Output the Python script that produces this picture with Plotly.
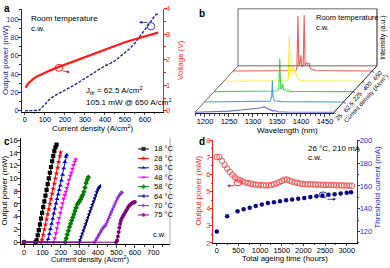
import plotly.graph_objects as go

W, H = 390, 268
FONT = "Liberation Sans, Arial, sans-serif"

# ================= DATA =================
# ---- panel a : L-I-V ----
a_current = [0, 30, 60, 70, 80, 90, 100, 115, 130, 150, 175, 200, 225, 250, 275, 300, 325, 350, 375, 400,
             425, 450, 475, 500, 525, 550, 575, 600, 625, 650, 665]
a_power = [0, 0, 0, 0.5, 2.5, 5, 7.5, 11, 14, 16.5, 19.5, 22, 25.5, 28.5, 32, 35.5, 39, 42.5, 46, 49,
           51.5, 54.5, 59, 63.5, 68, 74, 81, 88, 96, 104, 106.3]
a_v_current = [5, 10, 20, 30, 45, 60, 80, 100, 150, 200, 250, 300, 350, 400, 450, 500, 550, 600, 650, 665]
a_voltage = [0.9, 1.0, 1.1, 1.18, 1.27, 1.34, 1.42, 1.49, 1.66, 1.81, 1.96, 2.11, 2.26, 2.41, 2.55, 2.68,
             2.8, 2.91, 3.02, 3.06]

# ---- panel b : spectra at different current densities ----
b_current_labels = ["25", "62.5", "225", "400", "650"]
b_wl_25 = [1179, 1200, 1230, 1250, 1270, 1290, 1300, 1310, 1318, 1322, 1326, 1332, 1338, 1342, 1346, 1352, 1370, 1400, 1469]
b_in_25 = [0, 0.005, 0.012, 0.02, 0.035, 0.05, 0.06, 0.07, 0.085, 0.095, 0.085, 0.06, 0.04, 0.02, 0.03, 0.01, 0.005, 0.003, 0]
b_wl_62 = [1179, 1250, 1300, 1316, 1319, 1320.5, 1322, 1325, 1340, 1469]
b_in_62 = [0, 0.005, 0.01, 0.015, 0.1, 0.38, 0.08, 0.02, 0.005, 0]
b_wl_225 = [1179, 1290, 1310, 1314, 1316, 1318, 1320, 1322, 1324, 1328, 1340, 1469]
b_in_225 = [0, 0.005, 0.01, 0.05, 0.59, 0.06, 0.05, 0.14, 0.04, 0.02, 0.005, 0]
b_wl_400 = [1179, 1300, 1312, 1314, 1316, 1318, 1320, 1322, 1324, 1326, 1328, 1331, 1335, 1345, 1469]
b_in_400 = [0, 0.005, 0.01, 0.05, 0.81, 0.1, 0.25, 0.18, 0.28, 0.15, 0.2, 0.08, 0.03, 0.01, 0]
b_wl_650 = [1179, 1300, 1310, 1312, 1314, 1316, 1318, 1320, 1322, 1325, 1327, 1329, 1331, 1334, 1337, 1340, 1350, 1469]
b_in_650 = [0, 0.005, 0.01, 0.05, 0.98, 0.1, 0.12, 0.28, 0.08, 0.1, 1.0, 0.1, 0.15, 0.12, 0.14, 0.04, 0.01, 0]
b_colors = ["#6b6bd6", "#4f9fe0", "#3fdc3f", "#f2f23a", "#f05a5a"]

# ---- panel c : temperature dependent L-I ----
c_labels = ["18 °C", "28 °C", "38 °C", "48 °C", "58 °C", "64 °C", "70 °C", "75 °C"]
c_j_18 = [0, 62, 68, 74, 80, 86, 92, 98, 104, 110, 116, 122, 128, 134, 140, 146, 152, 158, 164, 170, 176]
c_p_18 = [0, 0, 0.3, 1.1, 1.9, 2.8, 3.7, 4.6, 5.5, 6.4, 7.3, 8.2, 9.1, 10, 10.9, 11.8, 12.7, 13.5, 14.3, 14.9, 15.3]
c_j_28 = [0, 92, 98, 104, 110, 116, 122, 128, 134, 140, 146, 152, 158, 164, 170, 176, 182, 188, 194, 198]
c_p_28 = [0, 0, 0.4, 1.2, 2, 2.8, 3.6, 4.4, 5.2, 6, 6.8, 7.6, 8.4, 9.2, 10, 10.8, 11.7, 12.6, 13.5, 14.1]
c_j_38 = [0, 125, 131, 137, 143, 149, 155, 161, 167, 173, 179, 185, 191, 197, 203, 209, 215, 221, 227, 231]
c_p_38 = [0, 0, 0.5, 1.3, 2.1, 2.9, 3.7, 4.5, 5.3, 6.1, 6.8, 7.5, 8.2, 8.9, 9.7, 10.6, 11.6, 12.6, 13.4, 13.7]
c_j_48 = [0, 160, 166, 172, 178, 184, 190, 196, 202, 208, 214, 220, 226, 232, 238, 244, 250, 256, 262, 268, 274, 280]
c_p_48 = [0, 0, 0.6, 1.4, 2.2, 3, 3.8, 4.6, 5.4, 6.1, 6.8, 7.4, 7.9, 8.5, 9.1, 9.8, 10.4, 10.9, 11.5, 12.1, 12.6, 13.0]
c_j_58 = [0, 222, 228, 234, 240, 246, 252, 258, 264, 270, 276, 282, 288, 294, 300, 306, 312, 318, 324, 330, 336, 342, 348]
c_p_58 = [0, 0, 0.6, 1.2, 1.8, 2.4, 2.9, 3.4, 3.9, 4.4, 4.9, 5.4, 5.9, 6.2, 6.4, 6.7, 7.1, 7.4, 7.9, 8.6, 9.3, 9.8, 10.2]
c_j_64 = [0, 298, 304, 310, 316, 322, 328, 334, 340, 346, 352, 358, 364, 370, 376, 382, 388, 394, 400, 406, 412]
c_p_64 = [0, 0, 0.4, 0.9, 1.4, 1.9, 2.4, 2.9, 3.4, 3.9, 4.4, 4.9, 5.4, 5.9, 6.4, 6.9, 7.4, 7.9, 8.3, 8.6, 8.8]
c_j_70 = [0, 382, 388, 394, 400, 406, 412, 418, 424, 430, 436, 442, 448, 454, 460, 466, 472, 478, 484, 490,
          496, 502, 508, 514, 520, 526, 530]
c_p_70 = [0, 0, 0.3, 0.6, 0.9, 1.2, 1.5, 1.8, 2.1, 2.3, 2.5, 2.7, 3.1, 3.5, 3.9, 4.3, 4.7, 5.1, 5.5, 5.9,
          6.3, 6.7, 7.0, 7.3, 7.5, 7.7, 7.8]
c_j_75 = [0, 498, 504, 508, 512, 516, 520, 524, 530, 536, 542, 548, 554, 560, 566, 572, 578, 584, 590, 596, 600]
c_p_75 = [0, 0, 0.3, 0.9, 1.6, 2.3, 2.9, 3.4, 3.8, 4.1, 4.4, 4.7, 5.0, 5.3, 5.6, 5.8, 6.0, 6.1, 6.2, 6.3, 6.3]
c_colors = ["#000000", "#ff0000", "#0000ff", "#ff00ff", "#008000", "#000080", "#8a2be2", "#800080"]
c_symbols = ["square", "star", "triangle-up", "triangle-down", "diamond", "triangle-left", "triangle-right", "hexagon"]

# ---- panel d : ageing ----
d_time = [0, 60, 120, 180, 240, 300, 360, 420, 480, 540,
          600, 660, 720, 780, 840, 900, 960, 1020, 1080, 1140,
          1200, 1260, 1320, 1380, 1440, 1500, 1560, 1620, 1680, 1740,
          1800, 1860, 1920, 1980, 2040, 2100, 2160, 2220, 2280, 2340,
          2400, 2460, 2520, 2580, 2640, 2700, 2760, 2820, 2880, 2940,
          3000, 3060, 3120]
d_power = [7.02, 7.02, 6.80, 6.55, 6.35, 6.16, 5.98, 5.84, 5.72, 5.67,
           5.60, 5.53, 5.50, 5.46, 5.43, 5.41, 5.40, 5.38, 5.37, 5.36,
           5.36, 5.39, 5.43, 5.48, 5.55, 5.62, 5.70, 5.71, 5.65, 5.59,
           5.54, 5.51, 5.47, 5.45, 5.43, 5.43, 5.42, 5.42, 5.41, 5.41,
           5.40, 5.40, 5.39, 5.40, 5.38, 5.38, 5.37, 5.37, 5.36, 5.36,
           5.35, 5.35, 5.34]
d_ith_time = [0, 240, 480, 620, 760, 900, 1040, 1180, 1320, 1460, 1600, 1740, 1880, 2020, 2160, 2300,
              2440, 2580, 2720, 2860, 3000, 3100]
d_ith = [120, 133.5, 137.8, 139.6, 140.8, 142.5, 143.7, 145, 145.8, 146.6, 147.4, 148.1, 148.8, 149.5,
         150.2, 150.9, 151.6, 152.2, 152.8, 153.4, 154, 154.5]

# ================= LAYOUT HELPERS =================
def xd(x0, x1):
    return [x0 / W, x1 / W]

def yd(top, bottom):
    return [1 - bottom / H, 1 - top / H]

def PX(px):
    return px / W

def PY(py):
    return 1 - py / H

NAVY = "#23239a"
RED = "#ff1a1a"
DBLUE = "#2b2bc8"
TF = 7.5  # tick font size

fig = go.Figure()
annotations = []
shapes = []

def text(t, px, py, size=8, color="black", xanchor="left", angle=0, bold=False):
    annotations.append(dict(text=("<b>%s</b>" % t) if bold else t, x=PX(px), y=PY(py), xref="paper", yref="paper",
                            showarrow=False, xanchor=xanchor, yanchor="middle", textangle=angle,
                            font=dict(size=size, color=color, family=FONT)))

def ellipse(cx, cy, rx, ry, color):
    shapes.append(dict(type="circle", xref="paper", yref="paper", x0=PX(cx - rx), x1=PX(cx + rx),
                       y0=PY(cy + ry), y1=PY(cy - ry), line=dict(color=color, width=0.9)))

def arrow(tx, ty, hx, hy, color):
    annotations.append(dict(text="", x=PX(hx), y=PY(hy), xref="paper", yref="paper", showarrow=True,
                            ax=tx - hx, ay=ty - hy, axref="pixel", ayref="pixel", arrowhead=2,
                            arrowsize=0.7, arrowwidth=0.9, arrowcolor=color))

def paper_line(x0, y0, x1, y1, color, width=1):
    shapes.append(dict(type="line", xref="paper", yref="paper", x0=PX(x0), y0=PY(y0), x1=PX(x1), y1=PY(y1),
                       line=dict(color=color, width=width)))

def axis_common(**kw):
    d = dict(showgrid=False, zeroline=False, showline=True, linewidth=1, ticks="outside", ticklen=2.5,
             tickwidth=1, tickfont=dict(size=TF, family=FONT), ticklabelstandoff=-2)
    d.update(kw)
    return d

# ================= PANEL A =================
fig.add_trace(go.Scatter(x=a_current, y=a_power, mode="lines", xaxis="x", yaxis="y",
                         line=dict(color=NAVY, width=1.4, dash="3px,1.5px")))
fig.add_trace(go.Scatter(x=a_v_current, y=a_voltage, mode="lines", xaxis="x", yaxis="y2",
                         line=dict(color=RED, width=2.2)))

# ================= PANEL B =================
B_PXNM = 0.48
B_WL0, B_WL1 = 1179.2, 1468.8
B_DX, B_DY = 43 / B_PXNM, 48.0   # depth vector (nm, px)
B_S = 58.0                       # px per a.u.
B_STEP = 0.2222
B_BACK_TOP = 59.0 / B_S

def proj(wl, d, inten):
    return wl + d * B_DX, d * B_DY + inten * B_S

b_specs = [(b_wl_25, b_in_25), (b_wl_62, b_in_62), (b_wl_225, b_in_225), (b_wl_400, b_in_400), (b_wl_650, b_in_650)]
fig.add_trace(go.Scatter(x=[None], y=[None], xaxis="x3", yaxis="y3", showlegend=False))
for k in range(4, -1, -1):
    wl, it = b_specs[k]
    xs, ys = [], []
    for w, i in zip(wl, it):
        px_, py_ = proj(w, k * B_STEP, i)
        xs.append(px_)
        ys.append(py_)
    fig.add_trace(go.Scatter(x=xs, y=ys, mode="lines", xaxis="x4", yaxis="y4",
                             line=dict(color=b_colors[k], width=1.1)))

def bline(p0, p1, color="#444444", width=0.8):
    shapes.append(dict(type="line", xref="x4", yref="y4", x0=p0[0], y0=p0[1], x1=p1[0], y1=p1[1],
                       line=dict(color=color, width=width)))

c00 = proj(B_WL0, 0, 0); c10 = proj(B_WL1, 0, 0)
c01 = proj(B_WL0, 1, 0); c11 = proj(B_WL1, 1, 0)
t01 = proj(B_WL0, 1, B_BACK_TOP); t11 = proj(B_WL1, 1, B_BACK_TOP)
bline(c00, c01)
bline(c10, c11, "#222222", 1)
bline(c01, c11)
bline(c01, t01)
bline(t01, t11)
bline(c11, t11, "#222222", 1)
nx, ny = 0.745, 0.667
for k, lab in enumerate(b_current_labels):
    p = proj(B_WL1, k * B_STEP, 0)
    q = (p[0] + nx * 2.5 / B_PXNM, p[1] - ny * 2.5)
    bline(p, q, "#222222", 0.8)
    annotations.append(dict(text=lab, x=p[0], y=p[1], xref="x4", yref="y4", showarrow=False,
                            xshift=nx * 6.5, yshift=-ny * 6.5, textangle=-48, xanchor="center", yanchor="middle",
                            font=dict(size=6.2, family=FONT)))
pm = proj(B_WL1, 0.5, 0)
annotations.append(dict(text="Current density (A/cm<sup>2</sup>)", x=pm[0], y=pm[1], xref="x4", yref="y4",
                        showarrow=False, xshift=nx * 14, yshift=-ny * 14, textangle=-48,
                        xanchor="center", yanchor="middle", font=dict(size=6, family=FONT)))

# ================= PANEL C =================
c_js = [c_j_18, c_j_28, c_j_38, c_j_48, c_j_58, c_j_64, c_j_70, c_j_75]
c_ps = [c_p_18, c_p_28, c_p_38, c_p_48, c_p_58, c_p_64, c_p_70, c_p_75]
C_XR = [-18, 790]
C_YR = [-0.3, 16.4]
C_DX = (20.7, 170)
C_DY = (138.3, 248.5)

def c_px_to_data(px, py):
    x = C_XR[0] + (px - C_DX[0]) / (C_DX[1] - C_DX[0]) * (C_XR[1] - C_XR[0])
    y = C_YR[0] + (C_DY[1] - py) / (C_DY[1] - C_DY[0]) * (C_YR[1] - C_YR[0])
    return x, y

for k in range(8):
    fig.add_trace(go.Scatter(x=c_js[k], y=c_ps[k], mode="lines+markers", xaxis="x5", yaxis="y5",
                             line=dict(color=c_colors[k], width=1),
                             marker=dict(symbol=c_symbols[k], size=4.2, color=c_colors[k], line=dict(width=0))))
for k in range(8):
    ry = 150 + k * 9.75
    xa, ya = c_px_to_data(138, ry)
    xm, _ = c_px_to_data(143.5, ry)
    xb, _ = c_px_to_data(149, ry)
    fig.add_trace(go.Scatter(x=[xa, xm, xb], y=[ya, ya, ya], mode="lines+markers", xaxis="x5", yaxis="y5",
                             line=dict(color=c_colors[k], width=1),
                             marker=dict(symbol=c_symbols[k], size=[0, 4.2, 0], color=c_colors[k], line=dict(width=0))))
    text(c_labels[k], 152, ry, size=7.5)
paper_line(C_DX[1], C_DY[0], C_DX[1], C_DY[1], "#9a9a9a", 0.8)

# ================= PANEL D =================
fig.add_trace(go.Scatter(x=d_time, y=d_power, mode="markers", xaxis="x6", yaxis="y6",
                         marker=dict(symbol="circle-open", size=5.5, color="#f05555", line=dict(width=1))))
fig.add_trace(go.Scatter(x=d_ith_time, y=d_ith, mode="markers", xaxis="x6", yaxis="y7",
                         marker=dict(symbol="circle", size=4.5, color="#0b0b8a")))

# ================= TEXTS =================
text("a", 2, 5, size=10, bold=True)
text("b", 197, 10, size=10, bold=True)
text("c", 2, 142, size=10, bold=True)
text("d", 197, 142, size=10, bold=True)

# panel a
text("Room temperature", 29, 15, size=8)
text("c.w.", 29, 25, size=8)
text("J<sub>th</sub> = 62.5 A/cm<sup>2</sup>", 84, 89, size=8)
text("105.1 mW @ 650 A/cm<sup>2</sup>", 84, 101, size=8)
text("Current density (A/cm<sup>2</sup>)", 92, 128.5, size=7.8, xanchor="center")
text("Output power (mW)", 5, 58, size=8, color=NAVY, xanchor="center", angle=-90)
text("Voltage (V)", 180, 58, size=8, color=RED, xanchor="center", angle=-90)
ellipse(59, 66, 4, 3.5, RED)
arrow(61, 69, 70, 70.5, RED)
ellipse(151, 23, 3.8, 3.8, NAVY)
arrow(149, 19, 139, 19, NAVY)

# panel b
text("Room temperature", 314, 14, size=7.5)
text("c.w.", 314, 24, size=7.5)
text("Wavelength (nm)", 287, 131, size=8, xanchor="center")
text("Intensity (a.u.)", 383, 35, size=7, xanchor="center", angle=-90)

# panel c
text("c.w.", 168, 238, size=7.5, xanchor="right")
text("Current density (A/cm<sup>2</sup>)", 90, 263.5, size=7.5, xanchor="center")
text("Output power (mW)", 5, 193, size=8, xanchor="center", angle=-90)

# panel d
text("26 °C, 210 mA", 306, 150, size=8)
text("c.w.", 306, 159, size=8)
text("Total ageing time (hours)", 285, 263.5, size=7.8, xanchor="center")
text("Output power (mW)", 199, 193, size=8, color=RED, xanchor="center", angle=-90)
text("Threshold current (mA)", 378, 190, size=8, color=DBLUE, xanchor="center", angle=-90)
ellipse(238, 185, 4, 3, RED)
arrow(236, 188, 227, 188, RED)
ellipse(323, 197.5, 4, 3, NAVY)
arrow(326, 202, 336, 202, NAVY)

# ================= AXES =================
fig.update_layout(
    width=W, height=H, margin=dict(l=0, r=0, t=0, b=0),
    paper_bgcolor="white", plot_bgcolor="rgba(0,0,0,0)", showlegend=False,
    font=dict(family=FONT, size=8, color="black"),
    xaxis=axis_common(domain=xd(21.7, 163), range=[-16, 690], anchor="y", tickvals=[0, 100, 200, 300, 400, 500, 600],
                      linecolor="black", minor=dict(ticks="outside", ticklen=1.5, dtick=50, tick0=0)),
    yaxis=axis_common(domain=yd(4.7, 111.5), range=[-1, 111.5], anchor="x", tickvals=[0, 20, 40, 60, 80, 100],
                      linecolor=NAVY, tickcolor=NAVY, tickfont=dict(size=TF, color=NAVY, family=FONT),
                      minor=dict(ticks="outside", ticklen=1.5, dtick=10, tick0=0, tickcolor=NAVY)),
    yaxis2=axis_common(overlaying="y", side="right", anchor="x", range=[-0.036, 4], tickvals=[0, 1, 2, 3, 4],
                       linecolor=RED, tickcolor=RED, tickfont=dict(size=TF, color=RED, family=FONT),
                       minor=dict(ticks="outside", ticklen=1.5, dtick=0.5, tick0=0, tickcolor=RED)),
    xaxis3=axis_common(domain=xd(195, 334), range=[B_WL0, B_WL1], anchor="y3",
                       tickvals=[1200, 1250, 1300, 1350, 1400, 1450], linecolor="#222222", ticklen=2.5,
                       tickfont=dict(size=7.5, family=FONT),
                       minor=dict(ticks="outside", ticklen=1.5, dtick=10, tick0=1200)),
    yaxis3=dict(domain=yd(112, 113), range=[0, 1], anchor="x3", visible=False),
    xaxis4=dict(domain=xd(190, 390), range=[B_WL0 + (190 - 195) / B_PXNM, B_WL0 + (390 - 195) / B_PXNM],
                anchor="y4", visible=False),
    yaxis4=dict(domain=yd(0, 135), range=[112 - 135, 112], anchor="x4", visible=False),
    xaxis5=axis_common(domain=xd(*C_DX), range=C_XR, anchor="y5", tickvals=[0, 100, 200, 300, 400, 500, 600, 700],
                       linecolor="black",
                       minor=dict(ticks="outside", ticklen=1.5, dtick=50, tick0=0)),
    yaxis5=axis_common(domain=yd(*C_DY), range=C_YR, anchor="x5", tickvals=list(range(0, 17, 2)),
                       linecolor="black",
                       minor=dict(ticks="outside", ticklen=1.5, dtick=1, tick0=0)),
    xaxis6=axis_common(domain=xd(213.3, 356.7), range=[-80, 3230], anchor="y6",
                       tickvals=[0, 500, 1000, 1500, 2000, 2500, 3000], linecolor="black",
                       minor=dict(ticks="outside", ticklen=1.5, dtick=250, tick0=0)),
    yaxis6=axis_common(domain=yd(141, 247.3), range=[2, 8], anchor="x6", tickvals=[2, 3, 4, 5, 6, 7, 8],
                       linecolor=RED, tickcolor=RED, tickfont=dict(size=TF, color=RED, family=FONT),
                       minor=dict(ticks="outside", ticklen=1.5, dtick=0.5, tick0=2, tickcolor=RED)),
    yaxis7=axis_common(overlaying="y6", side="right", anchor="x6", range=[110, 200],
                       tickvals=[120, 140, 160, 180, 200],
                       linecolor=DBLUE, tickcolor=DBLUE, tickfont=dict(size=TF, color=DBLUE, family=FONT),
                       minor=dict(ticks="outside", ticklen=1.5, dtick=10, tick0=110, tickcolor=DBLUE)),
    annotations=annotations,
    shapes=shapes,
)

fig.write_html("out.html")
